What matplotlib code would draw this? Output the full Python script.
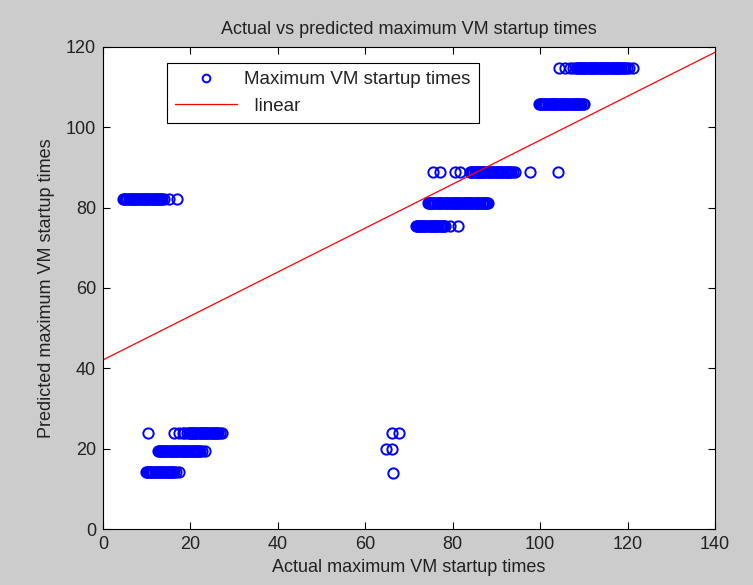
import numpy as np
import matplotlib.pyplot as plt

plt.rcParams['font.family'] = ['Liberation Sans', 'DejaVu Sans']

# actual vs predicted maximum VM startup times
x_82 = [4.6, 4.85, 5.1, 5.35, 5.6, 5.85, 6.1, 6.35, 6.6, 6.85, 7.1, 7.35, 7.6,
        7.85, 8.1, 8.35, 8.6, 8.85, 9.1, 9.35, 9.6, 9.85, 10.1, 10.35, 10.6,
        10.85, 11.1, 11.35, 11.6, 11.85, 12.1, 12.35, 12.6, 12.85, 13.1,
        13.35, 13.6, 14.0, 15.2, 16.9]
x_24 = [10.2, 16.2, 17.4, 18.2, 18.6, 19.2, 19.6, 19.85, 20.1, 20.35, 20.6,
        20.85, 21.1, 21.35, 21.6, 21.85, 22.1, 22.35, 22.6, 22.85, 23.1,
        23.35, 23.6, 23.85, 24.1, 24.35, 24.6, 24.85, 25.1, 25.35, 25.6,
        25.85, 26.1, 26.4, 26.8, 27.2]
x_20 = [12.5, 12.75, 13.0, 13.25, 13.5, 13.75, 14.0, 14.25, 14.5, 14.75,
        15.0, 15.25, 15.5, 15.75, 16.0, 16.25, 16.5, 16.75, 17.0, 17.25,
        17.5, 17.75, 18.0, 18.25, 18.5, 18.75, 19.0, 19.25, 19.5, 19.75,
        20.0, 20.25, 20.5, 20.75, 21.0, 21.25, 21.5, 21.75, 22.0, 22.3,
        22.7, 23.3]
x_14 = [9.8, 10.05, 10.3, 10.55, 10.8, 11.05, 11.3, 11.55, 11.8, 12.05,
        12.3, 12.55, 12.8, 13.05, 13.3, 13.55, 13.8, 14.05, 14.3, 14.55,
        14.8, 15.05, 15.3, 15.55, 15.8, 16.05, 16.3, 16.6, 17.4]
x_mid = [66.0, 67.6, 64.7, 66.2, 66.4]
y_mid = [23.8, 23.8, 19.8, 19.8, 13.9]
x_75 = [71.5, 71.75, 72.0, 72.25, 72.5, 72.75, 73.0, 73.25, 73.5, 73.75,
        74.0, 74.25, 74.5, 74.75, 75.0, 75.25, 75.5, 75.75, 76.0, 76.25,
        76.5, 76.75, 77.0, 77.25, 77.5, 77.75, 78.0, 78.3, 79.3, 81.2]
x_81 = [74.3, 74.55, 74.8, 75.05, 75.3, 75.55, 75.8, 76.05, 76.3, 76.55,
        76.8, 77.05, 77.3, 77.6, 78.0, 78.25, 78.5, 78.75, 79.0, 79.25, 79.5,
        79.75, 80.0, 80.25, 80.5, 80.75, 81.0, 81.25, 81.5, 81.75, 82.0,
        82.25, 82.5, 82.75, 83.0, 83.25, 83.5, 83.75, 84.0, 84.25, 84.5,
        84.75, 85.0, 85.3, 85.6, 85.85, 86.1, 86.35, 86.6, 86.85, 87.1,
        87.35, 87.6, 87.85, 88.1]
x_89 = [75.5, 77.1, 80.5, 81.7, 84.0, 84.25, 84.5, 84.75, 85.0, 85.25, 85.5,
        85.75, 86.0, 86.25, 86.5, 86.75, 87.0, 87.25, 87.5, 87.75, 88.0,
        88.25, 88.5, 88.75, 89.0, 89.3, 89.6, 89.85, 90.1, 90.35, 90.6,
        90.85, 91.1, 91.35, 91.6, 91.85, 92.1, 92.35, 92.6, 92.85, 93.1,
        93.4, 93.8, 94.3, 97.7, 104.0]
x_106 = [99.7, 99.95, 100.2, 100.45, 100.7, 100.95, 101.2, 101.45, 101.7,
         101.95, 102.2, 102.45, 102.7, 102.95, 103.2, 103.45, 103.7, 103.95,
         104.2, 104.45, 104.7, 104.95, 105.2, 105.45, 105.7, 105.95, 106.2,
         106.45, 106.7, 106.95, 107.2, 107.45, 107.7, 107.95, 108.2, 108.45,
         108.7, 108.95, 109.2, 109.45, 109.7, 110.0]
x_115 = [104.3, 105.8, 106.9, 107.6, 108.1, 108.35, 108.6, 108.85, 109.1,
         109.35, 109.6, 109.85, 110.1, 110.35, 110.6, 110.85, 111.1, 111.35,
         111.6, 111.85, 112.1, 112.35, 112.6, 112.85, 113.1, 113.35, 113.6,
         113.85, 114.1, 114.35, 114.6, 114.85, 115.1, 115.35, 115.6, 115.85,
         116.1, 116.35, 116.6, 116.85, 117.1, 117.35, 117.6, 117.85, 118.1,
         118.35, 118.6, 118.85, 119.1, 119.4, 119.8, 120.3, 121.2]

rows = [(x_82, 82.1), (x_24, 23.8), (x_20, 19.5), (x_14, 14.3), (x_75, 75.5),
        (x_81, 81.1), (x_89, 88.8), (x_106, 105.7), (x_115, 114.7)]

actual = np.concatenate([np.array(xs) for xs, _ in rows] + [np.array(x_mid)])
predicted = np.concatenate([np.full(len(xs), yv) for xs, yv in rows] + [np.array(y_mid)])

# fitted line
fit_intercept = 42.1
fit_slope = 0.547
line_x = np.array([0, 140])

fig = plt.figure(figsize=(7.53, 5.85), dpi=100, facecolor='#cccccc')
ax = fig.add_axes([0.1368, 0.0957, 0.8127, 0.824])

ax.plot(actual, predicted, 'o', mfc='none', mec='blue', ms=7.4, mew=1.4,
        label='Maximum VM startup times')
ax.plot(line_x, fit_intercept + fit_slope * line_x, color='red', lw=0.9,
        label='  linear')

ax.set_xlim(0, 140)
ax.set_ylim(0, 120)
ax.set_xticks(range(0, 141, 20))
ax.set_yticks(range(0, 121, 20))
ax.tick_params(direction='in', top=True, right=True, labelsize=13, length=5,
               pad=5, labelcolor='#222222')
for s in ax.spines.values():
    s.set_linewidth(0.8)

ax.set_title('Actual vs predicted maximum VM startup times', fontsize=13, pad=9,
             color='#222222')
ax.set_xlabel('Actual maximum VM startup times', fontsize=13, labelpad=4,
              color='#222222')
ax.set_ylabel('Predicted maximum VM startup times', fontsize=13, labelpad=8,
              color='#222222')

leg = ax.legend(loc='upper left', bbox_to_anchor=(0.1046, 0.967), fontsize=13.5,
                fancybox=False, edgecolor='black', framealpha=1,
                markerscale=0.75, handlelength=3.3, borderpad=0.45,
                borderaxespad=0, handletextpad=0.35, labelcolor='#222222')
leg.get_frame().set_linewidth(0.8)

fig.savefig('out.png', dpi=100, facecolor=fig.get_facecolor())
